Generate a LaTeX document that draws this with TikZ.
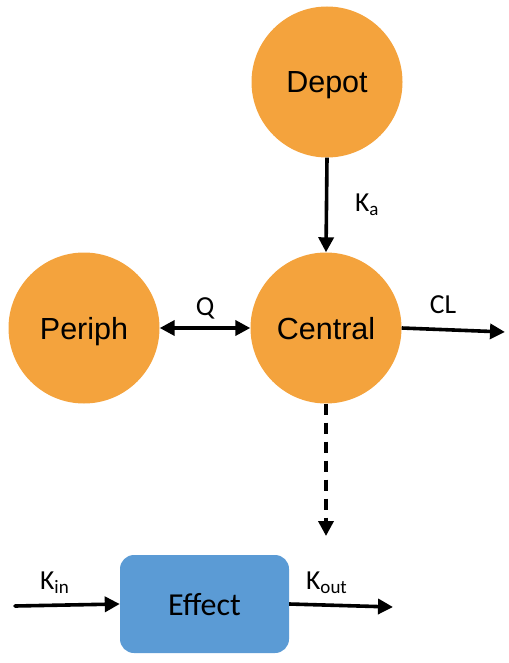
\documentclass[tikz,border=0pt]{standalone}
\usepackage{fontspec}
\setmainfont{Liberation Sans}
\newfontfamily\calib{Carlito}
\usetikzlibrary{arrows.meta}
\definecolor{pkorange}{HTML}{F4A33D}
\definecolor{pkblue}{HTML}{5B9BD5}
\tikzset{
  comp/.style={circle, fill=pkorange, minimum size=151pt, inner sep=0pt,
    text depth=0pt, font=\fontsize{30.5}{34}\selectfont},
  effbox/.style={rectangle, rounded corners=14pt, fill=pkblue, minimum width=169pt,
    minimum height=98pt, inner sep=0pt, text depth=0pt, font=\calib\fontsize{32}{36}\selectfont},
  tip/.style={-{Triangle[length=15pt,width=15pt]}},
  conn/.style={line width=3.6pt, tip},
  lab/.style={inner sep=0pt, font=\calib\fontsize{27.5}{30}\selectfont},
}
\newcommand{\subt}[1]{\raisebox{-4pt}{\fontsize{19}{20}\selectfont #1}}
\begin{document}
\begin{tikzpicture}[x=1pt,y=-1pt]
\useasboundingbox (0,0) rectangle (508,663);
\node[comp] (depot) at (327,82) {Depot};
\node[comp] (central) at (326,328) {Central};
\node[comp] (periph) at (84,328) {Periph};
\node[effbox] (effect) at (204.5,604) {Effect};
\coordinate (clend) at (505,332);
\coordinate (dashend) at (326,536);
\coordinate (kinstart) at (15,606);
\coordinate (koutend) at (393,607);
\draw[conn] (depot.south) -- (central.north);
\draw[line width=3.6pt, {Triangle[length=15pt,width=15pt]}-{Triangle[length=15pt,width=15pt]}] (periph.east) -- (central.west);
\draw[conn] (central.east) -- (clend);
\draw[conn, dash pattern=on 11pt off 8pt] (central.south) -- (dashend);
\draw[conn, line cap=round] (kinstart) -- (effect.west);
\draw[conn] (effect.east) -- (koutend);
\node[lab, anchor=base west] (ka) at (355,211) {K\subt{a}};
\node[lab, anchor=base] (q) at (205,315) {Q};
\node[lab, anchor=base] (cl) at (443,313) {CL};
\node[lab, anchor=base west] (kin) at (40,589) {K\subt{in}};
\node[lab, anchor=base west] (kout) at (306,589) {K\subt{out}};
\end{tikzpicture}
\end{document}
